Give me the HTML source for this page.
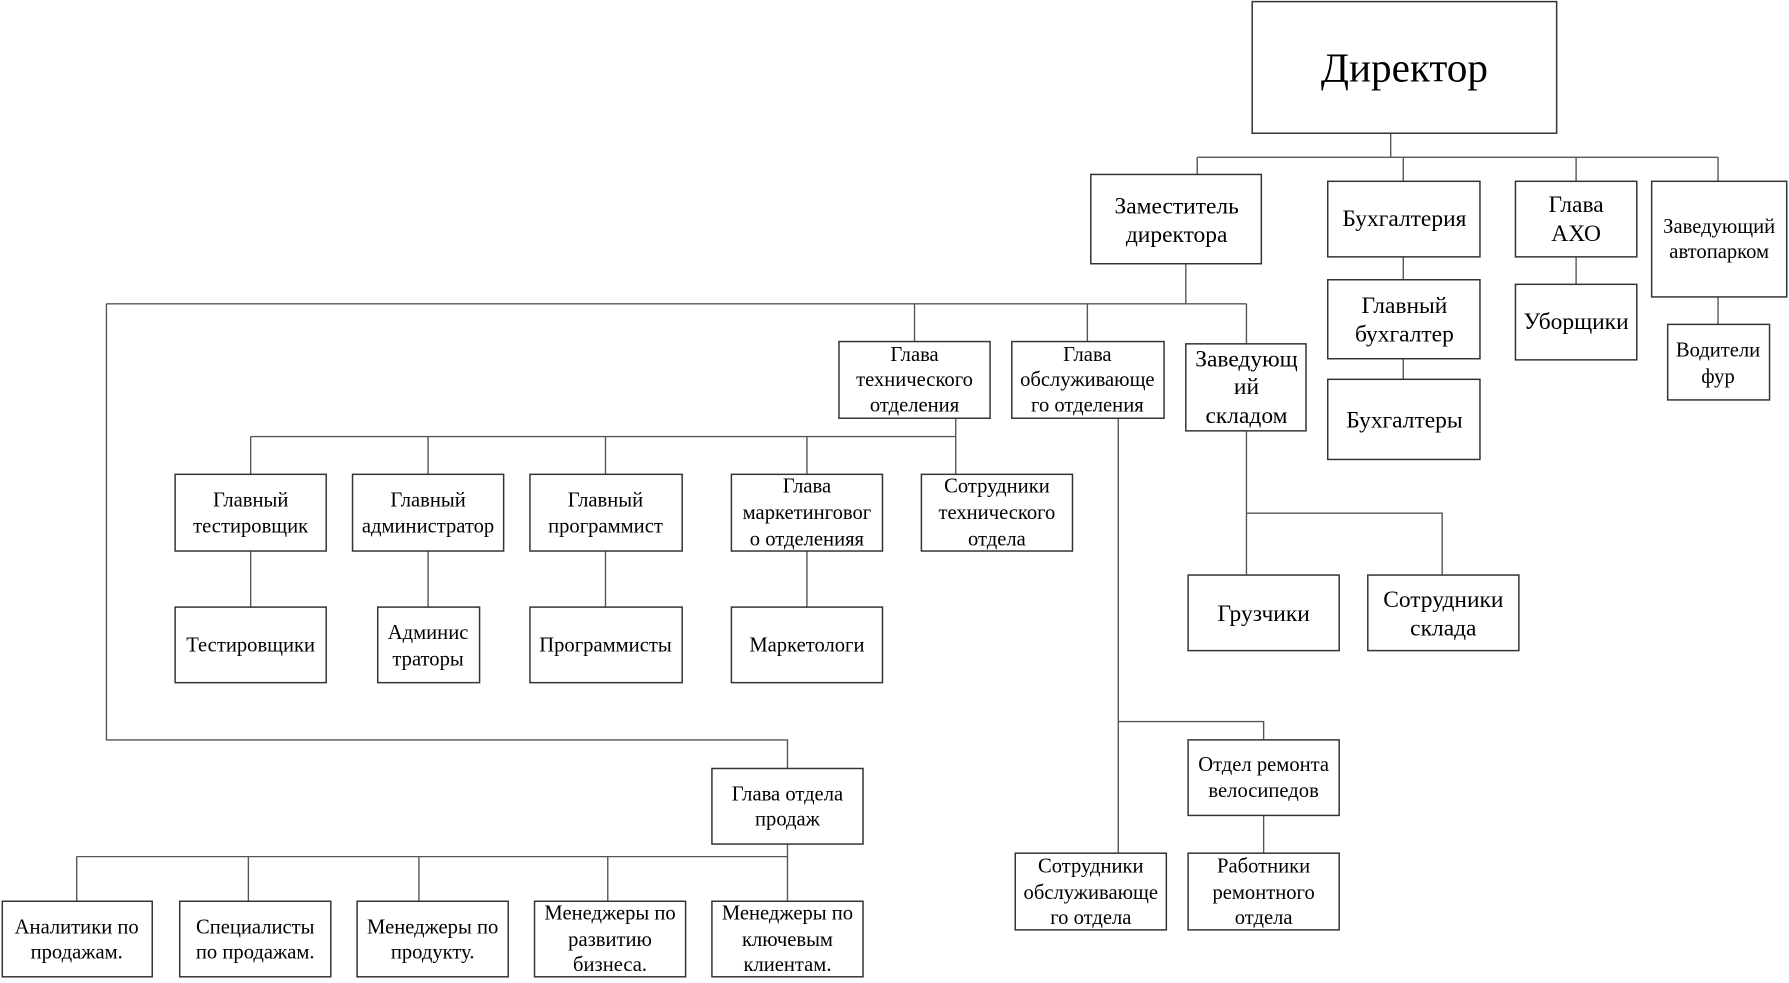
<!DOCTYPE html>
<html><head><meta charset="utf-8"><style>
html,body{margin:0;padding:0;background:#fff;width:1789px;height:983px;overflow:hidden}
svg text{font-family:"Liberation Serif","DejaVu Serif",serif;fill:#000;text-anchor:middle}
</style></head><body>
<svg width="1789" height="983" viewBox="0 0 1563 858" xmlns="http://www.w3.org/2000/svg">
<g stroke="#555" stroke-width="1.2" fill="none">
<path d="M1215 116V137M1046 137H1501M1046 137V152M1226 137V158M1377 137V158M1501 137V158"/>
<path d="M1226 224V244M1226 313V331M1377 224V248M1501 259V283"/>
<path d="M1036 230V265M93 265H1089M93 265V646H688V671M799 265V298M950 265V298M1089 265V300"/>
<path d="M835 365V414M219 381H835M219 381V414M374 381V414M529 381V414M705 381V414"/>
<path d="M219 481V530M374 481V530M529 481V530M705 481V530"/>
<path d="M977 365V745M977 630H1104V646M1104 712V745"/>
<path d="M1089 376V502M1089 448H1260V502"/>
<path d="M688 737V787M67 748H688M67 748V787M217 748V787M366 748V787M531 748V787"/>
</g>
<g stroke="#333" stroke-width="1.3" fill="#fff">
<rect x="1094" y="1" width="266" height="115"/>
<rect x="953" y="152" width="149" height="78"/>
<rect x="1160" y="158" width="133" height="66"/>
<rect x="1324" y="158" width="106" height="66"/>
<rect x="1443" y="158" width="118" height="101"/>
<rect x="1160" y="244" width="133" height="69"/>
<rect x="1160" y="331" width="133" height="70"/>
<rect x="1324" y="248" width="106" height="66"/>
<rect x="1457" y="283" width="89" height="66"/>
<rect x="733" y="298" width="132" height="67"/>
<rect x="884" y="298" width="133" height="67"/>
<rect x="1036" y="300" width="105" height="76"/>
<rect x="153" y="414" width="132" height="67"/>
<rect x="308" y="414" width="132" height="67"/>
<rect x="463" y="414" width="133" height="67"/>
<rect x="639" y="414" width="132" height="67"/>
<rect x="805" y="414" width="132" height="67"/>
<rect x="153" y="530" width="132" height="66"/>
<rect x="330" y="530" width="89" height="66"/>
<rect x="463" y="530" width="133" height="66"/>
<rect x="639" y="530" width="132" height="66"/>
<rect x="1038" y="502" width="132" height="66"/>
<rect x="1195" y="502" width="132" height="66"/>
<rect x="1038" y="646" width="132" height="66"/>
<rect x="887" y="745" width="132" height="67"/>
<rect x="1038" y="745" width="132" height="67"/>
<rect x="622" y="671" width="132" height="66"/>
<rect x="2" y="787" width="131" height="66"/>
<rect x="157" y="787" width="132" height="66"/>
<rect x="312" y="787" width="132" height="66"/>
<rect x="467" y="787" width="132" height="66"/>
<rect x="622" y="787" width="132" height="66"/>
</g>
<text x="1227" y="71" font-size="36">Директор</text>
<g font-size="20.5">
<text x="1028" y="186">Заместитель</text><text x="1028" y="211">директора</text>
<text x="1227" y="197">Бухгалтерия</text>
<text x="1377" y="185">Глава</text><text x="1377" y="210">АХО</text>
<text x="1227" y="273">Главный</text><text x="1227" y="298">бухгалтер</text>
<text x="1227" y="373">Бухгалтеры</text>
<text x="1377" y="287">Уборщики</text>
<text x="1089" y="320">Заведующ</text><text x="1089" y="344">ий</text><text x="1089" y="369">складом</text>
<text x="1104" y="542">Грузчики</text>
<text x="1261" y="530">Сотрудники</text><text x="1261" y="555">склада</text>
</g>
<g font-size="18">
<text x="1502" y="203">Заведующий</text><text x="1502" y="225">автопарком</text>
<text x="1501" y="311">Водители</text><text x="1501" y="334">фур</text>
<text x="799" y="315">Глава</text><text x="799" y="337">технического</text><text x="799" y="359">отделения</text>
<text x="950" y="315">Глава</text><text x="950" y="337">обслуживающе</text><text x="950" y="359">го отделения</text>
<text x="219" y="442">Главный</text><text x="219" y="465">тестировщик</text>
<text x="374" y="442">Главный</text><text x="374" y="465">администратор</text>
<text x="529" y="442">Главный</text><text x="529" y="465">программист</text>
<text x="705" y="430">Глава</text><text x="705" y="453">маркетинговог</text><text x="705" y="476">о отделенияя</text>
<text x="871" y="430">Сотрудники</text><text x="871" y="453">технического</text><text x="871" y="476">отдела</text>
<text x="219" y="569">Тестировщики</text>
<text x="374" y="558">Админис</text><text x="374" y="581">траторы</text>
<text x="529" y="569">Программисты</text>
<text x="705" y="569">Маркетологи</text>
<text x="1104" y="673">Отдел ремонта</text><text x="1104" y="696">велосипедов</text>
<text x="953" y="762">Сотрудники</text><text x="953" y="785">обслуживающе</text><text x="953" y="807">го отдела</text>
<text x="1104" y="762">Работники</text><text x="1104" y="785">ремонтного</text><text x="1104" y="807">отдела</text>
<text x="688" y="699">Глава отдела</text><text x="688" y="721">продаж</text>
<text x="67" y="815">Аналитики по</text><text x="67" y="837">продажам.</text>
<text x="223" y="815">Специалисты</text><text x="223" y="837">по продажам.</text>
<text x="378" y="815">Менеджеры по</text><text x="378" y="837">продукту.</text>
<text x="533" y="803">Менеджеры по</text><text x="533" y="826">развитию</text><text x="533" y="848">бизнеса.</text>
<text x="688" y="803">Менеджеры по</text><text x="688" y="826">ключевым</text><text x="688" y="848">клиентам.</text>
</g>
</svg>
</body></html>
